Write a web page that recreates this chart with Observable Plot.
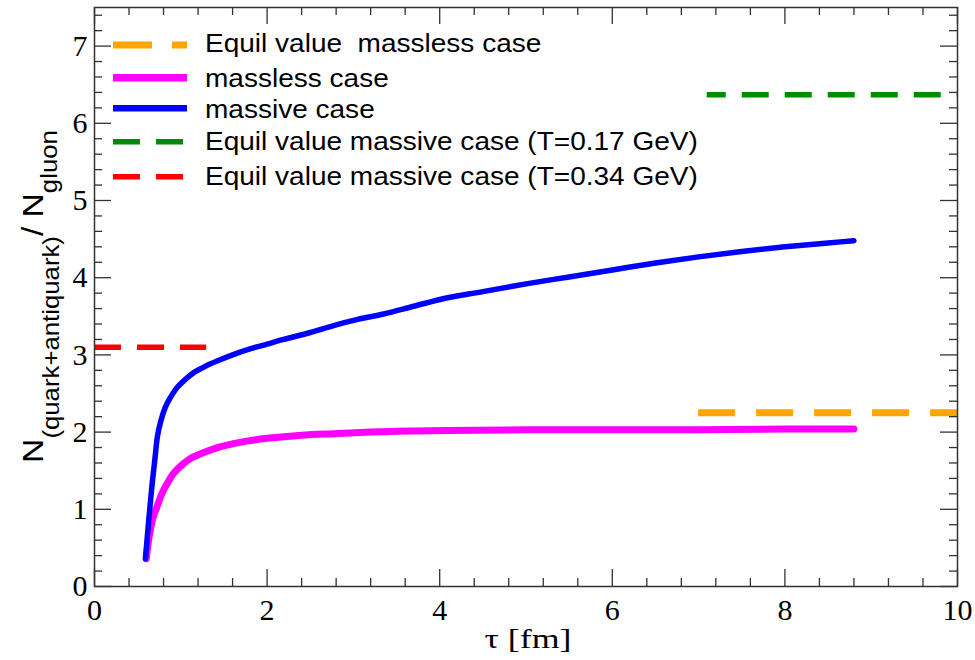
<!DOCTYPE html>
<html><head><meta charset="utf-8">
<script src="https://cdn.jsdelivr.net/npm/d3@7"></script>
<script src="https://cdn.jsdelivr.net/npm/@observablehq/plot@0.6"></script>
<style>body{margin:0;background:#fff} svg{display:block}</style>
</head><body><div id="chart"></div>
<script>
// ---- data ----
const massiveTau   = [0.59, 0.62, 0.64, 0.67, 0.70, 0.73, 0.77, 0.82, 0.88, 0.96, 1.05, 1.15, 1.28, 1.42, 1.60, 1.81, 2.00, 2.19, 2.50, 2.77, 3.05, 3.35, 3.70, 4.09, 4.50, 5.00, 5.50, 6.00, 6.50, 7.00, 7.50, 8.00, 8.50, 8.80];
const massiveRatio = [0.36, 0.75, 1.00, 1.35, 1.65, 1.95, 2.15, 2.32, 2.45, 2.58, 2.68, 2.77, 2.85, 2.92, 3.00, 3.08, 3.14, 3.20, 3.29, 3.38, 3.46, 3.53, 3.63, 3.74, 3.82, 3.92, 4.01, 4.10, 4.19, 4.27, 4.34, 4.40, 4.45, 4.48];
const masslessTau   = [0.60, 0.62, 0.65, 0.68, 0.72, 0.78, 0.84, 0.92, 1.03, 1.13, 1.23, 1.40, 1.61, 1.80, 2.00, 2.40, 2.77, 3.20, 3.50, 4.09, 5.00, 6.00, 7.00, 8.00, 8.80];
const masslessRatio = [0.36, 0.55, 0.75, 0.90, 1.02, 1.20, 1.33, 1.47, 1.59, 1.67, 1.72, 1.79, 1.85, 1.89, 1.92, 1.96, 1.98, 2.00, 2.01, 2.02, 2.03, 2.03, 2.03, 2.04, 2.04];

const equilNames  = ["massless", "massive T=0.17 GeV", "massive T=0.34 GeV"];
const equilValues = [2.25, 6.37, 3.10];
const equilFrom   = [7.0, 7.1, 0.0];
const equilTo     = [10.0, 10.0, 1.3];

const xTicks = [0, 2, 4, 6, 8, 10];
const xMinor = [0.4, 0.8, 1.2, 1.6, 2.4, 2.8, 3.2, 3.6, 4.4, 4.8, 5.2, 5.6, 6.4, 6.8, 7.2, 7.6, 8.4, 8.8, 9.2, 9.6];
const yTicks = [0, 1, 2, 3, 4, 5, 6, 7];
const yMinor = [0.2,0.4,0.6,0.8,1.2,1.4,1.6,1.8,2.2,2.4,2.6,2.8,3.2,3.4,3.6,3.8,4.2,4.4,4.6,4.8,5.2,5.4,5.6,5.8,6.2,6.4,6.6,6.8,7.2,7.4];

const legendLabels = ["Equil value  massless case", "massless case", "massive case",
  "Equil value massive case (T=0.17 GeV)", "Equil value massive case (T=0.34 GeV)"];

// ---- styles ----
const C = {orange: "#ffa500", magenta: "#ff00ff", blue: "#0000ff", green: "#008c00", red: "#ff0000"};
const serif = "'Liberation Serif', 'Times New Roman', serif";
const sans = "'Liberation Sans', Arial, sans-serif";

const W = 975, H = 660, mL = 94, mR = 18, mT = 7, mB = 74;
const fw = W - mL - mR, fh = H - mT - mB;
const tickCol = "#333";

const massive = massiveTau.map((t, i) => ({t, r: massiveRatio[i]}));
const massless = masslessTau.map((t, i) => ({t, r: masslessRatio[i]}));
const equil = equilNames.map((n, i) => ({n, y: equilValues[i], x1: equilFrom[i], x2: equilTo[i]}));

const plot = Plot.plot({
  width: W, height: H,
  marginLeft: mL, marginRight: mR, marginTop: mT, marginBottom: mB,
  x: {domain: [0, 10], axis: null},
  y: {domain: [0, 7.5], axis: null},
  style: {background: "white", overflow: "visible"},
  marks: [
    Plot.line(massless, {x: "t", y: "r", stroke: C.magenta, strokeWidth: 7, curve: "catmull-rom"}),
    Plot.line(massive, {x: "t", y: "r", stroke: C.blue, strokeWidth: 5.5, curve: "catmull-rom"}),
    Plot.ruleY([equil[0]], {y: "y", x1: "x1", x2: "x2", stroke: C.orange, strokeWidth: 7, strokeDasharray: "37,21"}),
    Plot.ruleY([equil[1]], {y: "y", x1: "x1", x2: "x2", stroke: C.green, strokeWidth: 5.5, strokeDasharray: "27,16", strokeDashoffset: 8}),
    Plot.ruleY([equil[2]], {y: "y", x1: "x1", x2: "x2", stroke: C.red, strokeWidth: 5.5, strokeDasharray: "27,16"}),
    // inward ticks on all four sides
    Plot.tickX(xTicks, {x: d => d, insetTop: fh - 17, stroke: tickCol, strokeWidth: 1.3}),
    Plot.tickX(xMinor, {x: d => d, insetTop: fh - 8, stroke: tickCol, strokeWidth: 1.3}),
    Plot.tickX(xTicks, {x: d => d, insetBottom: fh - 17, stroke: tickCol, strokeWidth: 1.3}),
    Plot.tickX(xMinor, {x: d => d, insetBottom: fh - 8, stroke: tickCol, strokeWidth: 1.3}),
    Plot.tickY(yTicks, {y: d => d, insetRight: fw - 17, stroke: tickCol, strokeWidth: 1.3}),
    Plot.tickY(yMinor, {y: d => d, insetRight: fw - 8, stroke: tickCol, strokeWidth: 1.3}),
    Plot.tickY(yTicks, {y: d => d, insetLeft: fw - 17, stroke: tickCol, strokeWidth: 1.3}),
    Plot.tickY(yMinor, {y: d => d, insetLeft: fw - 8, stroke: tickCol, strokeWidth: 1.3}),
    Plot.frame({stroke: tickCol, strokeWidth: 1.5}),
    // tick labels
    Plot.text(xTicks, {x: d => d, frameAnchor: "bottom", lineAnchor: "top", dy: 12, text: d => String(d),
      fontSize: 30, fontFamily: serif, fill: "black"}),
    Plot.text(yTicks, {y: d => d, frameAnchor: "left", textAnchor: "end", dx: -7, text: d => String(d),
      fontSize: 30, fontFamily: serif, fill: "black"})
  ]
});
document.getElementById("chart").append(plot);

const svg = d3.select(plot);

// x-axis title
const xl = svg.append("text")
  .attr("font-family", serif).attr("font-size", 28).attr("fill", "black")
  .attr("text-anchor", "middle").text("τ [fm]");
{
  const len = xl.node().getComputedTextLength();
  const k = 87 / len;
  xl.attr("transform", `translate(528,648) scale(${k},1)`);
}

// y-axis title with subscripts
const yl = svg.append("text")
  .attr("font-family", sans).attr("fill", "black").attr("text-anchor", "middle");
yl.append("tspan").attr("font-size", 30).text("N");
yl.append("tspan").attr("font-size", 23).attr("dy", 16).text("(quark+antiquark)");
yl.append("tspan").attr("font-size", 30).attr("dy", -16).text("/ N");
yl.append("tspan").attr("font-size", 23).attr("dy", 14).text("gluon");
{
  const len = yl.node().getComputedTextLength();
  const k = 333 / len;
  yl.attr("transform", `translate(43,${mT + fh / 2}) rotate(-90) scale(${k},1)`);
}

// legend
const legendColors = [C.orange, C.magenta, C.blue, C.green, C.red];
const legendDash = ["39,20", null, null, "27,16", "27,16"];
const legendWidth = [7, 7.5, 6.5, 5.5, 5.5];
const legendLineY = [45, 77.7, 108.3, 141.7, 176.7];
const legendBase = [51.7, 87, 118, 150, 185];
const lg = svg.append("g").attr("text-anchor", "start");
legendLabels.forEach((lab, i) => {
  lg.append("line").attr("x1", 113).attr("x2", 187)
    .attr("y1", legendLineY[i]).attr("y2", legendLineY[i])
    .attr("stroke", legendColors[i]).attr("stroke-width", legendWidth[i])
    .attr("stroke-dasharray", legendDash[i]);
});
const texts = legendLabels.map((lab, i) =>
  lg.append("text").attr("text-anchor", "start").attr("font-family", sans).attr("font-size", 25).attr("fill", "black")
    .style("white-space", "pre").text(lab));
const refLen = texts[3].node().getComputedTextLength();
const kL = 493 / refLen;
texts.forEach((t, i) => t.attr("transform", `translate(205,${legendBase[i]}) scale(${kL},1)`));
</script>
</body></html>
